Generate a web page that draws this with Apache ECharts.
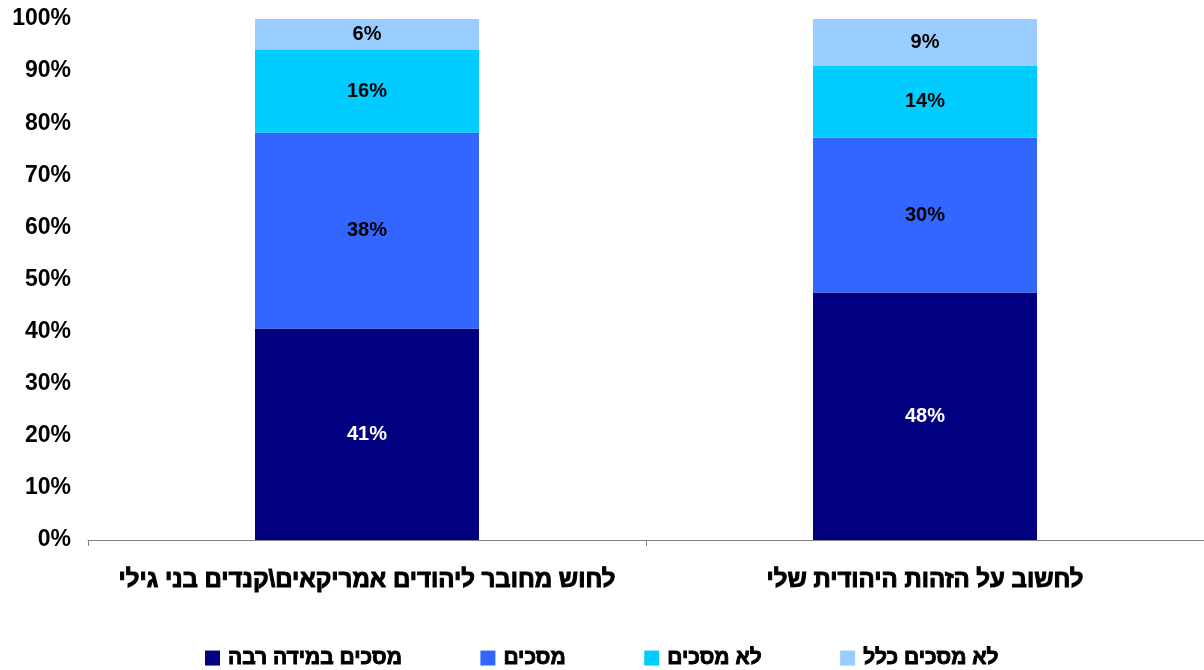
<!DOCTYPE html>
<html>
<head>
<meta charset="utf-8">
<script src="https://cdn.jsdelivr.net/npm/echarts@6/dist/echarts.min.js"></script>
<style>html,body{margin:0;padding:0;background:#fff;}#chart{width:1204px;height:670px;}</style>
</head>
<body>
<div id="chart"></div>
<script>
const categories = ['לחוש מחובר ליהודים אמריקאים\\קנדים בני גילי', 'לחשוב על הזהות היהודית שלי'];
const seriesNames = ['מסכים במידה רבה', 'מסכים', 'לא מסכים', 'לא מסכים כלל'];
const strongAgree = [41, 48];
const agree = [38, 30];
const disagree = [16, 14];
const stronglyDisagree = [6, 9];
const yTicks = [0, 10, 20, 30, 40, 50, 60, 70, 80, 90, 100];

const raw = [strongAgree, agree, disagree, stronglyDisagree];
const colors = ['#000080', '#3366FF', '#00CCFF', '#99CCFF'];
const labelColors = ['#ffffff', '#000000', '#000000', '#000000'];
const totals = categories.map((c, i) => raw.reduce((s, arr) => s + arr[i], 0));
const FONT = '"Liberation Sans", Arial, "DejaVu Sans", sans-serif';

const chart = echarts.init(document.getElementById('chart'), null, {renderer: 'canvas'});
chart.setOption({
  animation: false,
  textStyle: {fontFamily: FONT},
  grid: {left: 88, right: 0, top: 19, bottom: 130, containLabel: false},
  legend: {
    data: seriesNames,
    bottom: -4,
    left: 'center',
    itemWidth: 15,
    itemHeight: 15,
    itemGap: 78,
    icon: 'rect',
    textStyle: {fontFamily: FONT, fontWeight: 'bold', fontSize: 21, color: '#000',
                textBorderColor: '#000', textBorderWidth: 0.9, padding: [0, 0, 0, 3]}
  },
  xAxis: {
    type: 'category',
    data: categories,
    axisLine: {lineStyle: {color: '#808080', width: 1}},
    axisTick: {show: true, length: 6, lineStyle: {color: '#808080'}},
    axisLabel: {interval: 0, fontFamily: FONT, fontWeight: 'bold', fontSize: 24, color: '#000', margin: 28,
                textBorderColor: '#000', textBorderWidth: 1}
  },
  yAxis: {
    type: 'value',
    min: yTicks[0],
    max: yTicks[yTicks.length - 1],
    interval: yTicks[1] - yTicks[0],
    axisLine: {show: false},
    axisTick: {show: false},
    splitLine: {show: false},
    axisLabel: {formatter: '{value}%', fontFamily: FONT, fontWeight: 'bold', fontSize: 23, color: '#000', margin: 17}
  },
  series: seriesNames.map((name, k) => ({
    name: name,
    type: 'bar',
    stack: 'total',
    barWidth: 224,
    itemStyle: {color: colors[k]},
    label: {
      show: true,
      position: 'inside',
      fontFamily: FONT,
      fontWeight: 'bold',
      fontSize: 20,
      color: labelColors[k],
      formatter: p => raw[k][p.dataIndex] + '%'
    },
    data: raw[k].map((v, i) => v / totals[i] * 100)
  }))
});
</script>
</body>
</html>
